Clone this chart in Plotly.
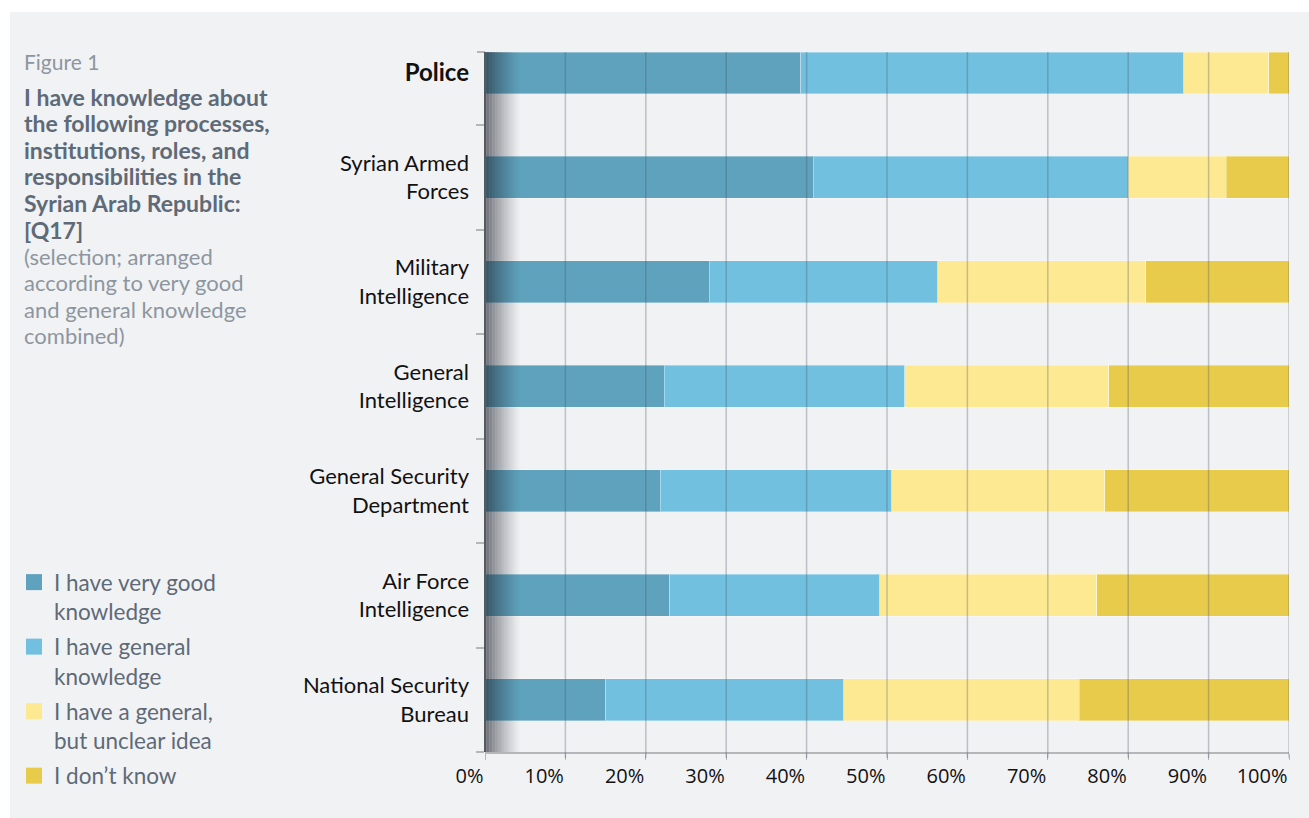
import plotly.graph_objects as go

# ---------------- data ----------------
categories = ["Police", "Syrian Armed Forces", "Military Intelligence", "General Intelligence",
              "General Security Department", "Air Force Intelligence", "National Security Bureau"]
category_labels = ["<b><span style='font-size:24px'>Police</span></b>", "Syrian Armed<br>Forces",
                   "Military<br>Intelligence", "General<br>Intelligence",
                   "General Security<br>Department", "Air Force<br>Intelligence",
                   "National Security<br>Bureau"]

very_good = [39.3, 40.8, 27.9, 22.3, 21.8, 23.0, 15.0]
general = [47.6, 39.2, 28.4, 29.9, 28.8, 26.1, 29.6]
unclear = [10.6, 12.2, 25.9, 25.4, 26.5, 27.0, 29.3]
dont_know = [2.5, 7.8, 17.8, 22.4, 22.9, 23.9, 26.1]

series_names = ["I have very good<br>knowledge", "I have general<br>knowledge",
                "I have a general,<br>but unclear idea", "I don’t know"]
series_values = [very_good, general, unclear, dont_know]
series_colors = ["#5fa2bd", "#72c0e0", "#fee993", "#e8cb4a"]

x_ticks = [0, 10, 20, 30, 40, 50, 60, 70, 80, 90, 100]

title_label = "Figure 1"
title_bold_lines = ["I have knowledge about", "the following processes,", "institutions, roles, and",
                    "responsibilities in the", "Syrian Arab Republic:", "[Q17]"]
title_note_lines = ["(selection; arranged", "according to very good", "and general knowledge",
                    "combined)"]

# ---------------- layout geometry ----------------
W, H = 1309, 818
L, R, T, B = 485, 20, 52, 66
PW, PH = W - L - R, H - T - B


def px_x(p):
    return (p - L) / PW


def px_y(p):
    return (H - B - p) / PH


fig = go.Figure()

for name, vals, col in zip(series_names, series_values, series_colors):
    fig.add_trace(go.Bar(
        y=categories, x=vals, orientation="h", name=name,
        marker=dict(color=col, line=dict(color="rgba(255,255,255,0.35)", width=1)),
        width=0.4, showlegend=False, legendgroup=name,
        hovertemplate="%{y}: %{x}%<extra>" + name.replace("<br>", " ") + "</extra>",
    ))
    fig.add_trace(go.Scatter(
        x=[None], y=[None], mode="markers", name=name, legendgroup=name,
        marker=dict(symbol="square", size=18, color=col), showlegend=True,
    ))

shapes = []
shapes.append(dict(type="rect", xref="paper", yref="paper",
                   x0=px_x(10), x1=px_x(1340), y0=px_y(850), y1=px_y(12),
                   fillcolor="#f1f2f4", line=dict(width=0), layer="below"))
for t in x_ticks[1:]:
    shapes.append(dict(type="line", xref="x", yref="paper", x0=t, x1=t, y0=-6 / PH, y1=1,
                       line=dict(color="rgba(70,80,95,0.30)", width=1.5), layer="above"))
n = 24
for i in range(n):
    a = 0.66 * (1 - i / n) ** 1.3
    shapes.append(dict(type="rect", xref="x", yref="paper",
                       x0=i * 4.4 / n, x1=(i + 1) * 4.4 / n, y0=0, y1=1,
                       fillcolor=f"rgba(35,40,50,{a:.3f})", line=dict(width=0), layer="above"))
shapes.append(dict(type="line", xref="paper", yref="paper", x0=-8 / PW, x1=0, y0=1, y1=1,
                   line=dict(color="#b4b6ba", width=2)))
shapes.append(dict(type="line", xref="paper", yref="paper", x0=0, x1=0, y0=0, y1=1,
                   line=dict(color="#555a60", width=2), layer="above"))

TX = 22
annotations = [dict(xref="paper", yref="paper", x=px_x(TX), y=px_y(62), xanchor="left",
                    yanchor="middle", text=title_label, showarrow=False,
                    font=dict(family="Lato", size=21, color="#8d969f"))]
y0 = 97
for i, line in enumerate(title_bold_lines):
    annotations.append(dict(xref="paper", yref="paper", x=px_x(TX), y=px_y(y0 + i * 26.5),
                            xanchor="left", yanchor="middle", text=f"<b>{line}</b>", showarrow=False,
                            font=dict(family="Lato", size=23, color="#5e6a77")))
y1 = y0 + len(title_bold_lines) * 26.5
for i, line in enumerate(title_note_lines):
    annotations.append(dict(xref="paper", yref="paper", x=px_x(TX), y=px_y(y1 + i * 26.6),
                            xanchor="left", yanchor="middle", text=line, showarrow=False,
                            font=dict(family="Lato", size=22, color="#8d969f")))

fig.update_layout(
    width=W, height=H,
    margin=dict(l=L, r=R, t=T, b=B, pad=0),
    paper_bgcolor="white", plot_bgcolor="rgba(0,0,0,0)",
    barmode="stack",
    shapes=shapes, annotations=annotations,
    showlegend=True,
    legend=dict(x=px_x(14), y=px_y(561), xanchor="left", yanchor="top",
                font=dict(family="Lato", size=22.5, color="#5e6a77"),
                bgcolor="rgba(0,0,0,0)", valign="top", tracegroupgap=3,
                itemclick=False, itemdoubleclick=False),
    xaxis=dict(range=[0, 100], tickvals=x_ticks, ticktext=[f"{t}%" for t in x_ticks],
               showgrid=False, zeroline=False, showline=True, linecolor="#b4b6ba", linewidth=2,
               ticks="outside", ticklen=6, tickcolor="#b4b6ba", tickwidth=1,
               ticklabelposition="outside left", ticklabelstandoff=5,
               tickfont=dict(family="Open Sans", size=20, color="#111111"), fixedrange=True),
    yaxis=dict(type="category", categoryorder="array", categoryarray=categories[::-1],
               range=[-0.5, 6.2], tickmode="array", tickvals=categories, ticktext=category_labels,
               tickson="boundaries", ticks="outside", ticklen=8, tickcolor="#b4b6ba", tickwidth=2,
               showgrid=False, zeroline=False, showline=False, ticklabelstandoff=15,
               tickfont=dict(family="Lato", size=22, color="#111111"), fixedrange=True),
    font=dict(family="Lato"),
)

fig.write_html("out.html", config={"displayModeBar": False},
               post_script="document.body.style.margin='0';")
